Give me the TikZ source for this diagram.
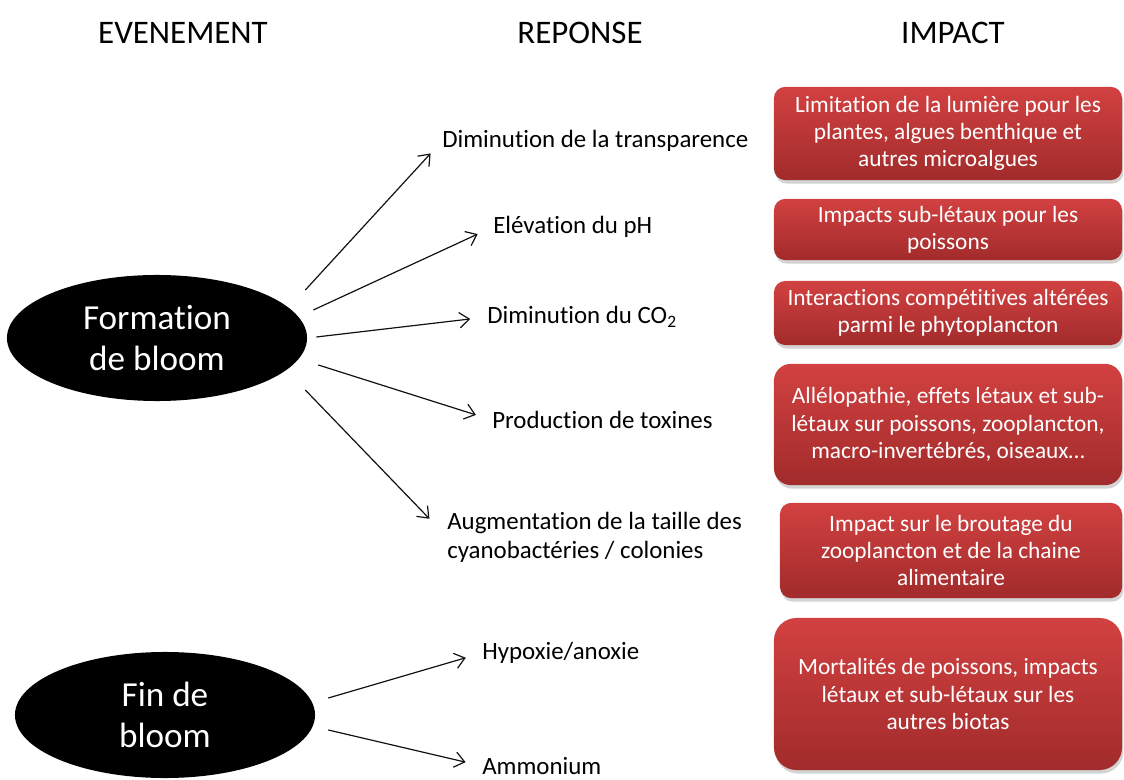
\documentclass[tikz,border=0pt]{standalone}
\usepackage{fontspec}
\setmainfont{Carlito}[RawFeature={-liga;-clig;-calt;-dlig}]
\usetikzlibrary{positioning, shapes.geometric, arrows.meta, shadows}
\definecolor{imptop}{HTML}{D24141}
\definecolor{impbot}{HTML}{A22B2B}
\definecolor{flechegris}{HTML}{111111}

\begin{document}
\begin{tikzpicture}[x=0.025cm, y=-0.025cm,
    entete/.style={font=\fontsize{23.4}{28}\selectfont, inner sep=0pt},
    bloom/.style={ellipse, fill=black, text=white, align=center, inner sep=0pt,
                  minimum width=7.5cm, minimum height=3.15cm,
                  font=\fontsize{25}{29.5}\selectfont},
    reponse/.style={anchor=west, align=left, inner sep=0pt,
                    font=\fontsize{17.7}{20.6}\selectfont},
    impact/.style={top color=imptop, bottom color=impbot, text=white,
                   align=center, rounded corners=8pt, inner sep=0pt,
                   minimum width=8.7cm, font=\fontsize{16.6}{19.4}\selectfont,
                   drop shadow={shadow xshift=1pt, shadow yshift=-2.5pt, opacity=0.35}},
    fleche/.style={draw=flechegris, -{Straight Barb[length=7pt, width=11pt]},
                   line width=0.85pt, shorten >=12pt}]
  \useasboundingbox (0,0) rectangle (1124,780);

  % titres des colonnes
  \node[entete] (hev) at (183,33) {EVENEMENT};
  \node[entete] (hrep) at (580,33) {REPONSE};
  \node[entete] (himp) at (953,33) {IMPACT};

  % evenements
  \node[bloom] (form) at (157,338) {Formation\\de bloom};
  \node[bloom] (fin) at (165,715) {Fin de\\bloom};

  % reponses
  \node[reponse] (r1) at (442,141) {Diminution de la transparence};
  \node[reponse] (r2) at (493,227) {Elévation du pH};
  \node[reponse] (r3) at (487,317) {Diminution du CO\textsubscript{2}};
  \node[reponse] (r4) at (492,420) {Production de toxines};
  \node[reponse] (r5) at (447,537) {Augmentation de la taille des\\cyanobactéries / colonies};
  \node[reponse] (r6) at (482,653) {Hypoxie/anoxie};
  \node[reponse] (r7) at (482,766) {Ammonium};

  % impacts
  \node[impact, minimum height=2.33cm] (i1) at (948,133.5)
    {Limitation de la lumière pour les\\plantes, algues benthique et\\autres microalgues};
  \node[impact, minimum height=1.53cm] (i2) at (948,229.5)
    {Impacts sub-létaux pour les\\poissons};
  \node[impact, minimum height=1.6cm] (i3) at (948,313)
    {Interactions compétitives altérées\\parmi le phytoplancton};
  \node[impact, minimum height=3.03cm, rounded corners=12pt] (i4) at (948,424.5)
    {Allélopathie, effets létaux et sub-\\létaux sur poissons, zooplancton,\\macro-invertébrés, oiseaux…};
  \node[impact, minimum height=2.38cm, minimum width=8.55cm] (i5) at (951,550.5)
    {Impact sur le broutage du\\zooplancton et de la chaine\\alimentaire};
  \node[impact, minimum height=3.8cm, rounded corners=16pt] (i6) at (948,694)
    {Mortalités de poissons, impacts\\létaux et sub-létaux sur les\\autres biotas};

  % fleches
  \draw[fleche] ([shift={(-2,-48)}]form.east) -- (r1.west);
  \draw[fleche] ([shift={(6,-28)}]form.east) -- (r2.west);
  \draw[fleche] ([shift={(9,-1)}]form.east) -- (r3.west);
  \draw[fleche] ([shift={(11,27)}]form.east) -- (r4.west);
  \draw[fleche, shorten >=18pt] ([shift={(-2,52)}]form.east) -- (r5.west);
  \draw[fleche] ([shift={(13,-17)}]fin.east) -- (r6.west);
  \draw[fleche] ([shift={(13,15)}]fin.east) -- (r7.west);
\end{tikzpicture}
\end{document}
